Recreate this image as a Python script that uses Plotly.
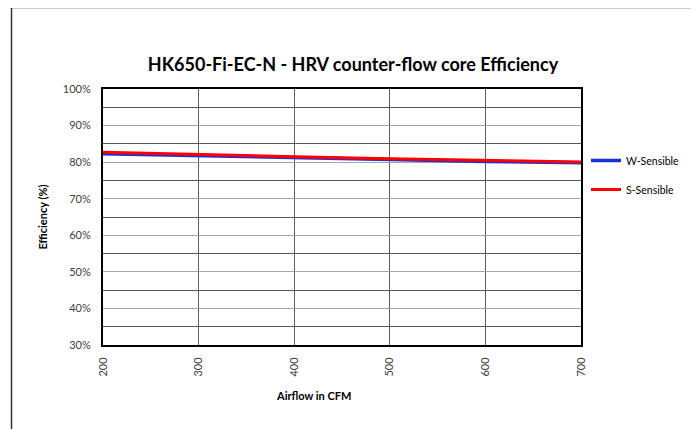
import plotly.graph_objects as go

airflow = [200, 300, 400, 500, 600, 700]
w_sensible = [82.3, 81.85, 81.2, 80.75, 80.2, 79.8]
s_sensible = [82.7, 82.0, 81.5, 80.9, 80.5, 80.05]
series_names = ["W-Sensible", "S-Sensible"]
title_text = "HK650-Fi-EC-N - HRV counter-flow core Efficiency"
x_title = "Airflow in CFM"
y_title = "Efficiency (%)"

FONT = "Lato, Calibri, Carlito, sans-serif"
OFF = 8  # page body margin

fig = go.Figure()
fig.add_trace(go.Scatter(x=airflow, y=w_sensible, mode="lines", name=series_names[0],
                         legendgroup="w", line=dict(color="#1a2fe0", width=3.5)))
fig.add_trace(go.Scatter(x=airflow, y=s_sensible, mode="lines", name=series_names[1],
                         legendgroup="s", line=dict(color="#ff0000", width=3)))

W, H = 699, 429
# desired page-pixel positions of plot area
PL, PR, PT, PB = 103, 581, 89, 345
L, T = PL - OFF, PT - OFF
R = W - (PR - OFF)
B = H - (PB - OFF)
pw, ph = W - L - R, H - T - B

def px_x(p):
    return (p - OFF - L) / pw

def px_y(p):
    return (H - B - (p - OFF)) / ph

fig.update_layout(
    width=W, height=H,
    margin=dict(l=L, r=R, t=T, b=B),
    paper_bgcolor="white", plot_bgcolor="white",
    font=dict(family=FONT, size=11, color="#404040"),
    title=dict(text="<b>" + title_text + "</b>", x=(353 - OFF) / W, xanchor="center",
               y=1 - (65 - OFF) / H, yanchor="middle",
               font=dict(family=FONT, size=18, color="#000000")),
    showlegend=True,
    legend=dict(x=px_x(586), xanchor="left", y=px_y(146), yanchor="top",
                font=dict(family=FONT, size=10.5, color="#000000"),
                tracegroupgap=10, bgcolor="rgba(0,0,0,0)"),
    xaxis=dict(range=[200, 700], dtick=100, tick0=200, tickangle=-90,
               showgrid=True, gridcolor="#606060", gridwidth=1,
               showline=True, linecolor="#000000", linewidth=2, mirror=True,
               ticks="", ticklabelstandoff=6, zeroline=False,
               tickfont=dict(family=FONT, size=11, color="#404040")),
    yaxis=dict(range=[30, 100], dtick=10, tick0=30, ticksuffix="%",
               showgrid=True, gridcolor="#a6a6a6", gridwidth=1,
               minor=dict(dtick=5, showgrid=True, gridcolor="#555555", gridwidth=1),
               showline=True, linecolor="#000000", linewidth=2, mirror=True,
               ticks="", ticklabelstandoff=8, zeroline=False,
               title=dict(text="<b>" + y_title + "</b>", standoff=13,
                          font=dict(family=FONT, size=11, color="#000000")),
               tickfont=dict(family=FONT, size=11, color="#404040")),
    annotations=[
        dict(text="<b>" + x_title + "</b>", xref="paper", yref="paper",
             x=px_x(313), y=px_y(395), xanchor="center", yanchor="middle",
             showarrow=False, font=dict(family=FONT, size=11, color="#000000")),
    ],
    shapes=[
        dict(type="rect", xref="paper", yref="paper",
             x0=px_x(11.5), x1=px_x(695), y0=px_y(470), y1=px_y(7.5),
             line=dict(color="#333333", width=1.5), fillcolor="rgba(0,0,0,0)",
             layer="below"),
    ],
)

fig.write_html("out.html")
